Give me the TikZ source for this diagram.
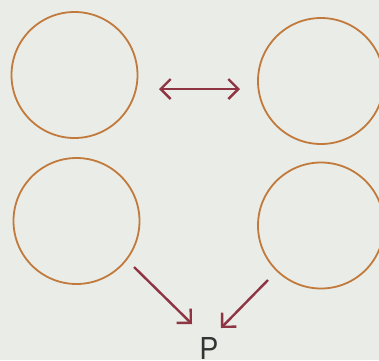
\documentclass[tikz,border=0pt]{standalone}
\usepackage{fontspec}
\setmainfont{Liberation Sans}
\usetikzlibrary{arrows.meta}
\definecolor{bg}{HTML}{E9ECE7}
\definecolor{ring}{HTML}{C27A3C}
\definecolor{arr}{HTML}{8E3442}
\begin{document}
\begin{tikzpicture}[x=1pt,y=-1pt,
  ringc/.style={circle,draw=ring,line width=1.8pt,minimum size=126pt,inner sep=0pt},
  arrc/.style={draw=arr,line width=2.4pt,-{Straight Barb[length=10pt,width=20pt]}},
  darrc/.style={draw=arr,line width=2.4pt,{Straight Barb[length=10pt,width=20pt]}-{Straight Barb[length=10pt,width=20pt]}}]
\fill[bg] (0,0) rectangle (379,360);
\useasboundingbox (0,0) rectangle (379,360);
\node[ringc] (tl) at (74.5,75) {};
\node[ringc] (tr) at (321,81) {};
\node[ringc] (bl) at (76.5,221) {};
\node[ringc] (br) at (321,225.5) {};
\node[font=\fontsize{32}{32}\selectfont,text=black!80,inner sep=0pt,anchor=north,xscale=0.88] (p) at (209,337) {P};
\coordinate (da) at (159,89);
\coordinate (db) at (240,89);
\draw[darrc] (da) -- (db);
\coordinate (a1) at (134,267);
\coordinate (a1e) at (192,324);
\draw[arrc] (a1) -- (a1e);
\coordinate (a2) at (268,280);
\coordinate (a2e) at (221,328);
\draw[arrc] (a2) -- (a2e);
\end{tikzpicture}
\end{document}
